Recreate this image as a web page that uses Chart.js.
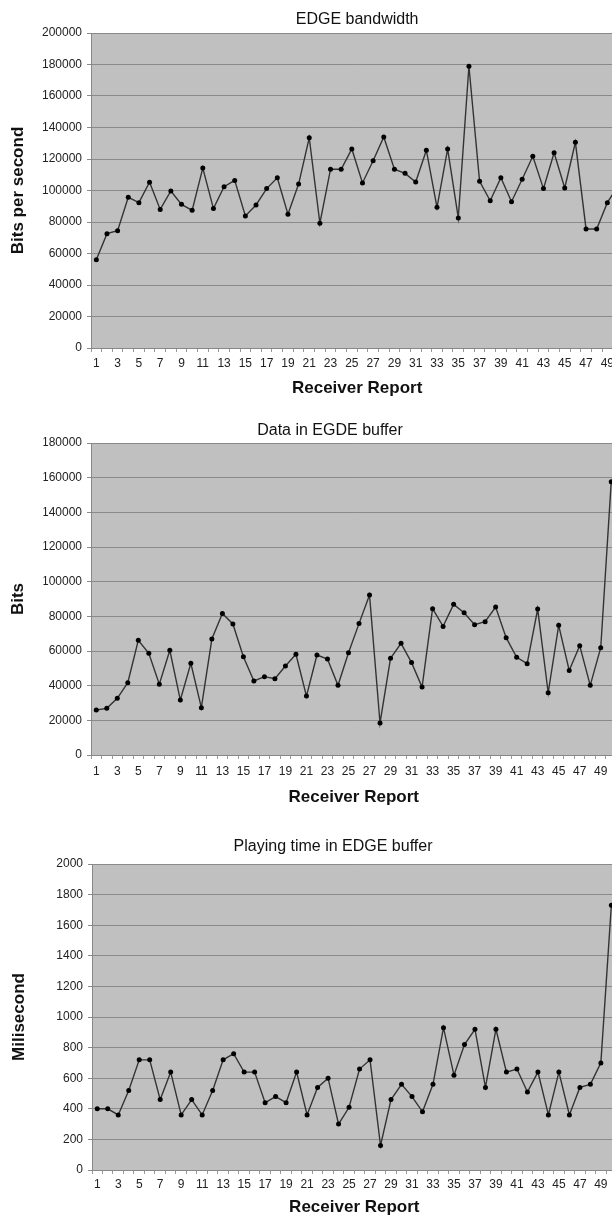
<!DOCTYPE html>
<html>
<head>
<meta charset="utf-8">
<script src="https://cdn.jsdelivr.net/npm/chart.js@4.4.1/dist/chart.umd.min.js"></script>
<style>
html, body { margin: 0; padding: 0; background: #fff; overflow: hidden; }
body { width: 612px; height: 1216px; position: relative; }
canvas { position: absolute; left: 0; }
</style>
</head>
<body>
<canvas id="bandwidthChart" width="640" height="405" style="top:0px"></canvas>
<canvas id="bufferChart" width="640" height="402" style="top:410px"></canvas>
<canvas id="playingChart" width="640" height="392" style="top:828px"></canvas>
<script>
// receiver report numbers (x categories)
const reports = [1, 2, 3, 4, 5, 6, 7, 8, 9, 10, 11, 12, 13, 14, 15, 16, 17, 18, 19, 20,
    21, 22, 23, 24, 25, 26, 27, 28, 29, 30, 31, 32, 33, 34, 35, 36, 37, 38, 39, 40,
    41, 42, 43, 44, 45, 46, 47, 48, 49, 50];

// bits per second
const bandwidth = [56000, 72600, 74500, 95700, 92300, 105300, 88000, 99700, 91200, 87400,
    114300, 88500, 102400, 106400, 83800, 90800, 101200, 108100, 84900, 104100,
    133500, 79200, 113500, 113500, 126400, 104800, 118900, 134000, 113500, 110900,
    105400, 125600, 89300, 126400, 82600, 178900, 105800, 93500, 108100, 92900,
    107100, 121700, 101200, 124000, 101600, 130600, 75600, 75600, 92300, 103000];

// bits in buffer
const bufferBits = [26000, 26900, 32700, 41700, 66200, 58700, 40800, 60400, 31700, 52900,
    27300, 66900, 81700, 75600, 56700, 42700, 45200, 44000, 51300, 58100,
    34000, 57700, 55400, 40200, 59000, 75800, 92300, 18500, 55800, 64400,
    53300, 39200, 84400, 74200, 86900, 82100, 75200, 76900, 85400, 67700,
    56400, 52700, 84200, 35900, 74800, 48800, 63100, 40200, 61900, 157700];

// milliseconds of playing time
const playingTime = [400, 400, 360, 520, 720, 720, 460, 640, 360, 460,
    360, 520, 720, 760, 640, 640, 440, 480, 440, 640,
    360, 540, 600, 300, 410, 660, 720, 160, 460, 560,
    480, 380, 560, 930, 620, 820, 920, 540, 920, 640,
    660, 510, 640, 360, 640, 360, 540, 560, 700, 1730];

Chart.defaults.font.family = "'Liberation Sans', Arial, sans-serif";

// grey plot area like the old spreadsheet charts
const plotBackground = {
    id: 'plotBackground',
    beforeDraw: function(chart) {
        var ctx = chart.ctx;
        var a = chart.chartArea;
        ctx.save();
        ctx.fillStyle = '#c0c0c0';
        ctx.fillRect(a.left, a.top, a.right - a.left, a.bottom - a.top);
        ctx.restore();
    }
};

function makeChart(id, title, yTitle, values, yMax, yStep, lay) {
    return new Chart(document.getElementById(id), {
        type: 'line',
        data: {
            labels: reports,
            datasets: [{
                data: values,
                borderColor: '#333',
                borderWidth: 1.4,
                pointRadius: 2.5,
                pointBorderWidth: 0,
                pointBackgroundColor: '#000',
                pointBorderColor: '#000',
                tension: 0,
                fill: false
            }]
        },
        options: {
            responsive: false,
            animation: false,
            layout: {
                padding: { left: lay.padLeft, right: lay.padRight, top: 0, bottom: 0 }
            },
            plugins: {
                legend: { display: false },
                tooltip: { enabled: false },
                title: {
                    display: true,
                    text: title,
                    fullSize: lay.fullTitle,
                    color: '#111',
                    font: { size: 16, weight: 'normal' },
                    padding: { top: lay.titleTop, bottom: lay.titleBottom }
                }
            },
            scales: {
                x: {
                    offset: true,
                    grid: { drawOnChartArea: false, drawTicks: true, tickLength: 4, color: '#999', offset: true },
                    border: { color: '#888' },
                    ticks: {
                        autoSkip: false,
                        maxRotation: 0,
                        minRotation: 0,
                        padding: lay.xTickPad,
                        color: '#222',
                        font: { size: 12 },
                        callback: function(val, index) {
                            return index % 2 === 0 ? this.getLabelForValue(val) : '';
                        }
                    },
                    title: {
                        display: true,
                        text: 'Receiver Report',
                        color: '#111',
                        font: { size: 17, weight: 'bold' },
                        padding: { top: 0, bottom: lay.xTitleBottom }
                    },
                    afterFit: function(scale) { scale.height = lay.xHeight; }
                },
                y: {
                    min: 0,
                    max: yMax,
                    grid: { color: '#8a8a8a', tickLength: 4 },
                    border: { color: '#888' },
                    ticks: {
                        stepSize: yStep,
                        padding: 5,
                        color: '#222',
                        font: { size: 12 },
                        callback: function(v) { return String(v); }
                    },
                    title: {
                        display: true,
                        text: yTitle,
                        color: '#111',
                        font: { size: 17, weight: 'bold' },
                        padding: { top: lay.yTitlePad, bottom: 0 }
                    },
                    afterFit: function(scale) { scale.width = lay.yWidth; }
                }
            }
        },
        plugins: [plotBackground]
    });
}

makeChart('bandwidthChart', 'EDGE bandwidth', 'Bits per second', bandwidth, 200000, 20000, {
    padLeft: 0, padRight: 16.7, yWidth: 91, yTitlePad: 8.3, fullTitle: false,
    titleTop: 9.9, titleBottom: 3.9, xHeight: 57, xTickPad: 4, xTitleBottom: 6.5
});

makeChart('bufferChart', 'Data in EGDE buffer', 'Bits', bufferBits, 180000, 20000, {
    padLeft: 43.5, padRight: 23.5, yWidth: 47.5, yTitlePad: -35.4, fullTitle: true,
    titleTop: 11.2, titleBottom: 2.6, xHeight: 57, xTickPad: 5, xTitleBottom: 4.8
});

makeChart('playingChart', 'Playing time in EDGE buffer', 'Milisecond', playingTime, 2000, 200, {
    padLeft: 49.4, padRight: 23.4, yWidth: 42.6, yTitlePad: -40.3, fullTitle: true,
    titleTop: 9.1, titleBottom: 7.7, xHeight: 50, xTickPad: 3, xTitleBottom: 2.3
});
</script>
</body>
</html>
